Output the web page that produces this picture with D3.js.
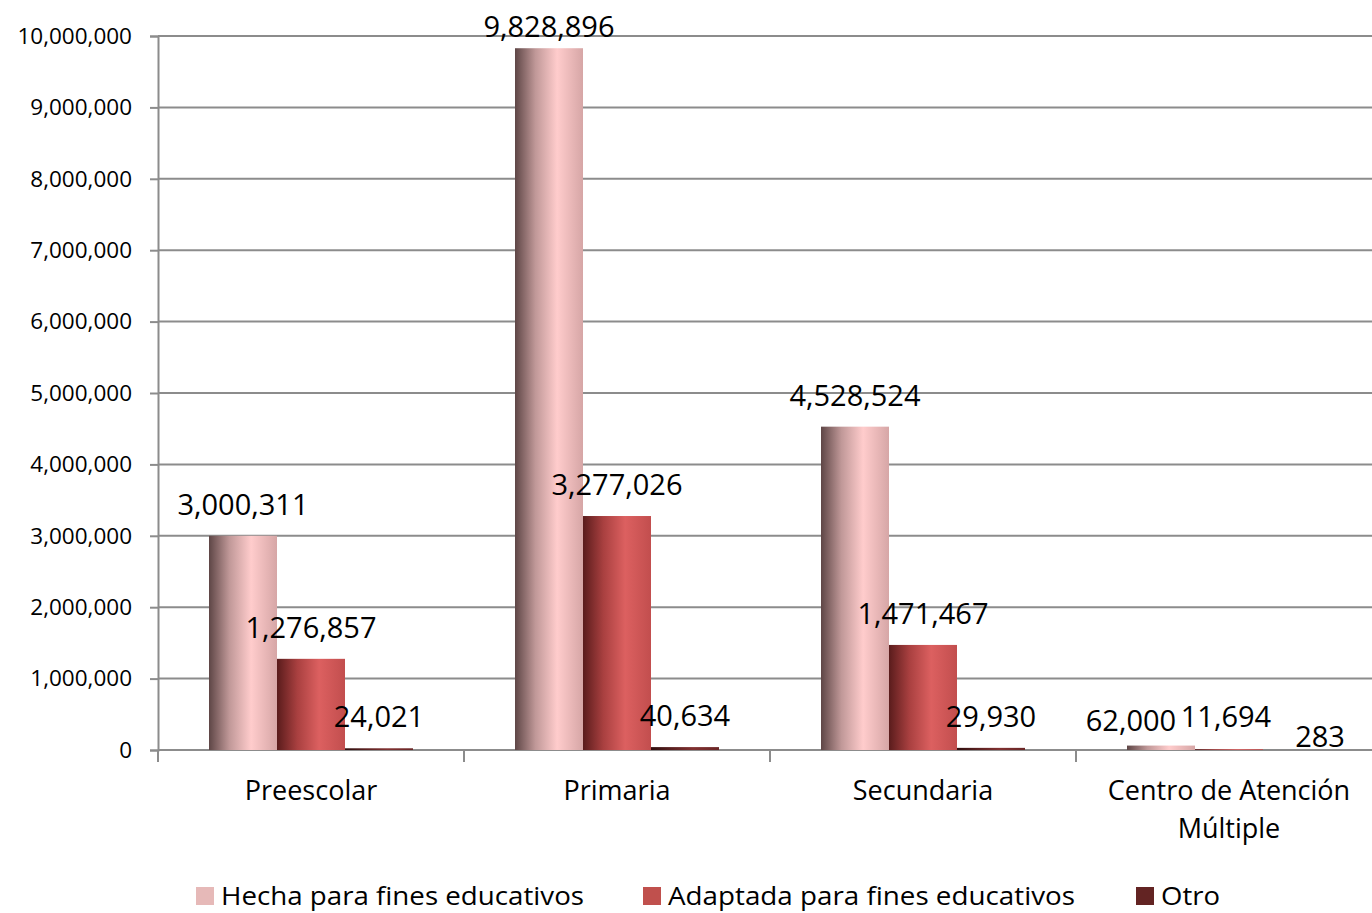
<!DOCTYPE html>
<html><head><meta charset="utf-8">
<script src="https://cdn.jsdelivr.net/npm/d3@7/dist/d3.min.js"></script>
<style>body{margin:0;background:#fff}svg{display:block}text{font-family:"Open Sans",sans-serif;fill:#000}</style>
</head><body><svg id="c" width="1372" height="913"></svg>
<script>
const categories = ["Preescolar","Primaria","Secundaria","Centro de Atención Múltiple"];
const seriesNames = ["Hecha para fines educativos","Adaptada para fines educativos","Otro"];
const hecha = [3000311, 9828896, 4528524, 62000];
const adaptada = [1276857, 3277026, 1471467, 11694];
const otro = [24021, 40634, 29930, 283];
const yTicks = [0,1000000,2000000,3000000,4000000,5000000,6000000,7000000,8000000,9000000,10000000];

const svg = d3.select("#c");
const M = {l:158, t:36, b:750};
const bandW = 306;
const x = d3.scaleBand().domain(categories).range([M.l, M.l + bandW*categories.length]).paddingInner(0).paddingOuter(0);
const y = d3.scaleLinear().domain([0,10000000]).range([M.b, M.t]);
const xs = d3.scaleBand().domain([0,1,2]).range([0, bandW]).paddingInner(0).paddingOuter(0.75);
const series = [hecha, adaptada, otro];

const defs = svg.append("defs");
const grads = [
  [["0","#5e4646"],["0.3","#c09898"],["0.62","#ffcccc"],["1","#d6a6a6"]],
  [["0","#5a1c1c"],["0.3","#a94040"],["0.62","#dc6060"],["1","#c24e4e"]],
  [["0","#2e0e0e"],["0.3","#5a2020"],["0.62","#803030"],["1","#6a2626"]]
];
grads.forEach((g,i)=>{
  const lg = defs.append("linearGradient").attr("id","g"+i).attr("x1","0").attr("x2","1").attr("y1","0").attr("y2","0");
  g.forEach(s=>lg.append("stop").attr("offset",s[0]).attr("stop-color",s[1]));
});

// gridlines
svg.append("g").selectAll("line").data(yTicks).join("line")
  .attr("x1",M.l).attr("x2",1372).attr("y1",d=>y(d)).attr("y2",d=>y(d))
  .attr("stroke","#8c8c8c").attr("stroke-width",2);

// y axis
const ya = svg.append("g").attr("transform",`translate(${M.l},0)`)
  .call(d3.axisLeft(y).tickValues(yTicks).tickFormat(d3.format(",")).tickSize(8).tickPadding(18));
ya.select(".domain").attr("stroke","#8c8c8c").attr("stroke-width",2);
ya.selectAll(".tick line").attr("stroke","#8c8c8c").attr("stroke-width",2);
ya.selectAll("text").style("font-size","22.5px").attr("fill","#000");

// x axis ticks at boundaries
const bounds = [0,1,2,3].map(i=>M.l+i*bandW);
svg.append("g").selectAll("line").data(bounds).join("line")
  .attr("x1",d=>d).attr("x2",d=>d).attr("y1",M.b).attr("y2",M.b+12)
  .attr("stroke","#8c8c8c").attr("stroke-width",2);

// bars
const bars = [];
categories.forEach((c,ci)=>series.forEach((s,si)=>bars.push({c,ci,si,v:s[ci]})));
svg.append("g").selectAll("rect").data(bars).join("rect")
  .attr("x",d=>x(d.c)+xs(d.si)).attr("width",xs.bandwidth())
  .attr("y",d=>y(d.v)).attr("height",d=>M.b-y(d.v))
  .attr("fill",d=>`url(#g${d.si})`);

// value labels
const labelAdj = {"3-0":[-30,6],"3-1":[-3,-1],"3-2":[23,18]};
svg.append("g").selectAll("text").data(bars).join("text")
  .attr("text-anchor","middle").style("font-size","29px")
  .attr("x",d=>x(d.c)+xs(d.si)+xs.bandwidth()/2+((labelAdj[d.ci+"-"+d.si]||[0,0])[0]))
  .attr("y",d=>Math.max(y(d.v)-21, 37)+((labelAdj[d.ci+"-"+d.si]||[0,0])[1]))
  .text(d=>d3.format(",")(d.v));

// category labels
const catG = svg.append("g").selectAll("text").data(categories).join("text")
  .attr("text-anchor","middle").style("font-size","27px")
  .attr("x",d=>x(d)+bandW/2).attr("y",800);
catG.each(function(d){
  const t = d3.select(this);
  const parts = d==="Centro de Atención Múltiple" ? ["Centro de Atención","Múltiple"] : [d];
  parts.forEach((p,i)=>t.append("tspan").attr("x",x(d)+bandW/2).attr("dy",i?38:0).text(p));
});

// legend
const legX = [196,643,1136];
const legW = [363,407,59];
const legColors = ["#e6b9b8","#c0504d","#632423"];
const lg = svg.append("g");
seriesNames.forEach((n,i)=>{
  lg.append("rect").attr("x",legX[i]).attr("y",887).attr("width",18).attr("height",18).attr("fill",legColors[i]);
  lg.append("text").attr("x",legX[i]+25).attr("y",905).style("font-size","26px")
    .attr("textLength",legW[i]).attr("lengthAdjust","spacingAndGlyphs").text(n);
});
</script></body></html>
